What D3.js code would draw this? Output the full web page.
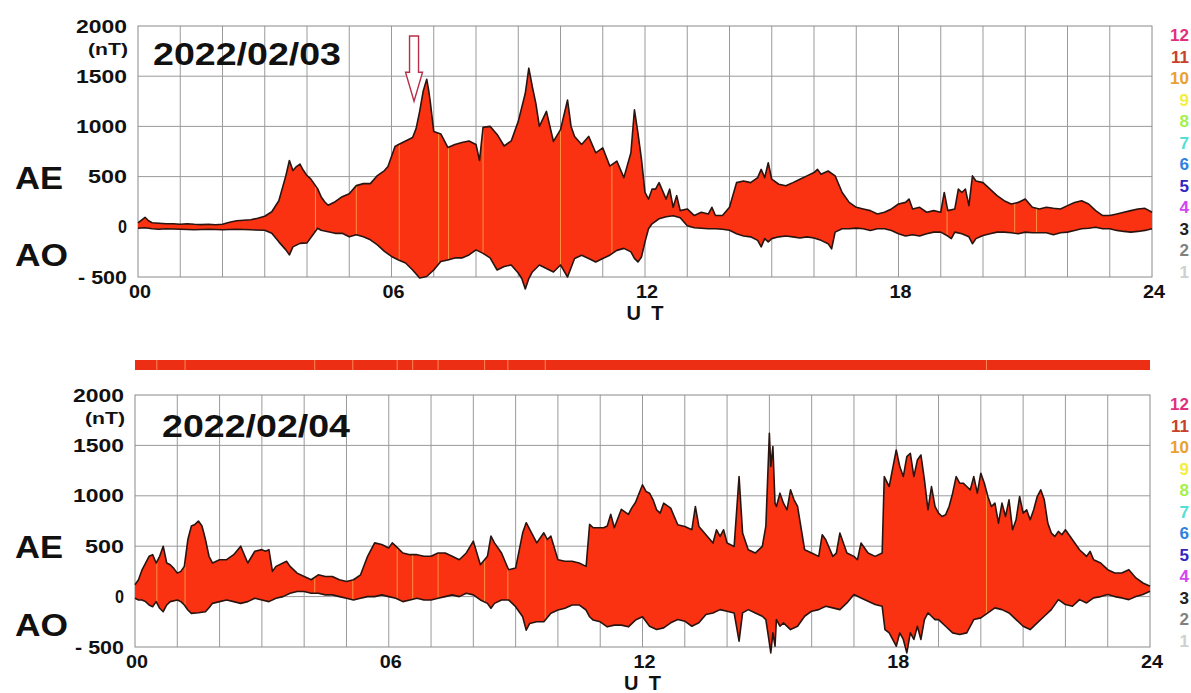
<!DOCTYPE html>
<html>
<head>
<meta charset="utf-8">
<script src="https://cdn.jsdelivr.net/npm/d3@7"></script>
<style>
  body { margin: 0; background: #fff; }
  svg { display: block; }
  text { font-family: "Liberation Sans", Arial, Helvetica, sans-serif; font-weight: bold; }
</style>
</head>
<body>
<svg id="chart" width="1191" height="693"></svg>
<script>
// ---- axis ticks and labels ----
const hourTicks = d3.range(0, 25);
const hourLabels = { 0: "00", 6: "06", 12: "12", 18: "18", 24: "24" };
const nTTicks = [2000, 1500, 1000, 500, 0, -500];
const nTLabels = ["2000", "1500", "1000", "500", "0", "- 500"];
const nTLabelWidths = [51, 51, 51, 39, 9, 49];

// ---- station-count colour key ----
const stationCounts = ["12", "11", "10", "9", "8", "7", "6", "5", "4", "3", "2", "1"];
const stationColors = ["#e0307c", "#c8402c", "#eaa030", "#f4ee3c", "#a4f04c", "#50e0d8",
                       "#3080e0", "#3424c0", "#d244f0", "#202020", "#808080", "#d0d0d0"];

// ---- dates ----
const dayLabels = ["2022/02/03", "2022/02/04"];

// ---- AU (upper envelope) and AL (lower envelope), [minute of day, nT] ----
const au0203 = [[0,40],[10,95],[15,60],[20,40],[30,35],[40,30],[50,30],[60,25],[70,30],[80,25],[90,22],[100,25],[110,20],[120,25],[130,45],[140,60],[150,65],[160,70],[170,85],[180,105],[190,150],[200,260],[210,510],[215,660],[220,560],[225,600],[230,625],[235,560],[240,510],[245,480],[250,430],[255,380],[260,300],[265,250],[270,215],[280,250],[290,300],[300,330],[310,410],[320,430],[330,430],[340,510],[350,560],[355,600],[360,700],[365,800],[370,820],[380,855],[390,890],[395,980],[400,1150],[405,1350],[410,1470],[413,1350],[415,1250],[420,950],[430,925],[440,790],[450,820],[460,840],[470,855],[480,820],[485,660],[490,990],[500,1000],[510,920],[520,805],[530,855],[540,1050],[550,1330],[555,1580],[560,1395],[565,1230],[570,1000],[580,1150],[590,850],[600,967],[610,1263],[615,1000],[620,900],[630,820],[640,900],[650,737],[660,786],[670,605],[680,655],[690,490],[700,737],[705,1165],[710,934],[715,671],[720,342],[725,276],[730,375],[735,375],[740,440],[750,276],[755,375],[760,194],[765,310],[770,161],[780,178],[790,112],[800,145],[810,128],[815,194],[820,112],[830,112],[840,194],[850,440],[860,457],[870,440],[880,490],[885,572],[890,490],[895,638],[900,474],[910,424],[920,408],[930,440],[940,474],[950,507],[960,540],[965,572],[970,523],[980,556],[990,507],[1000,342],[1010,243],[1020,194],[1030,178],[1040,161],[1050,128],[1060,145],[1070,178],[1080,227],[1090,243],[1095,276],[1100,178],[1110,194],[1120,145],[1130,161],[1140,145],[1145,342],[1150,161],[1160,178],[1165,375],[1170,342],[1175,375],[1180,211],[1185,507],[1190,457],[1200,440],[1210,375],[1220,310],[1230,260],[1240,227],[1250,243],[1260,276],[1270,194],[1280,178],[1290,194],[1300,184],[1310,178],[1320,211],[1330,243],[1340,260],[1350,227],[1360,161],[1370,112],[1380,112],[1390,128],[1400,145],[1410,161],[1420,178],[1430,184],[1440,145]];
const al0203 = [[0,-15],[10,-10],[20,-20],[30,-25],[40,-20],[60,-25],[80,-30],[100,-25],[120,-30],[140,-25],[160,-30],[180,-35],[190,-65],[200,-150],[210,-230],[215,-280],[220,-200],[230,-165],[240,-160],[250,-65],[255,-15],[260,-35],[270,-50],[280,-65],[290,-65],[300,-100],[310,-80],[320,-100],[330,-130],[340,-180],[350,-245],[360,-295],[370,-330],[380,-360],[390,-430],[400,-510],[410,-495],[420,-430],[430,-345],[440,-330],[450,-310],[460,-310],[470,-280],[480,-230],[490,-265],[500,-310],[510,-430],[520,-395],[530,-380],[540,-460],[545,-515],[550,-620],[555,-515],[560,-450],[570,-380],[580,-415],[590,-450],[600,-380],[610,-500],[620,-315],[630,-283],[640,-315],[650,-350],[660,-315],[670,-283],[680,-235],[690,-215],[700,-250],[705,-315],[710,-350],[715,-300],[720,-150],[725,-20],[730,30],[740,80],[750,100],[760,110],[770,90],[780,10],[790,-10],[800,-15],[810,-20],[820,-20],[830,-25],[840,-35],[850,-70],[860,-92],[870,-100],[880,-135],[885,-200],[890,-118],[895,-150],[900,-118],[910,-100],[920,-92],[930,-100],[940,-112],[950,-100],[960,-112],[970,-135],[980,-168],[985,-220],[990,-53],[1000,-20],[1010,-20],[1020,-13],[1030,-20],[1040,-36],[1050,-20],[1060,-20],[1070,-36],[1080,-69],[1090,-92],[1100,-79],[1110,-92],[1120,-69],[1130,-53],[1140,-53],[1150,-92],[1155,-118],[1160,-53],[1170,-69],[1180,-100],[1185,-168],[1190,-118],[1200,-86],[1210,-69],[1220,-53],[1230,-53],[1240,-60],[1250,-69],[1260,-53],[1270,-60],[1280,-59],[1290,-60],[1300,-79],[1310,-60],[1320,-53],[1330,-36],[1340,-20],[1350,-15],[1360,-5],[1370,-20],[1380,-20],[1390,-36],[1400,-46],[1410,-53],[1420,-46],[1430,-36],[1440,-20]];

const au0204 = [[0,117],[5,167],[10,266],[15,333],[20,400],[25,416],[30,333],[35,400],[40,500],[45,333],[50,316],[55,280],[60,233],[65,250],[70,300],[75,566],[80,700],[85,716],[90,750],[95,700],[100,566],[105,400],[110,333],[120,366],[130,366],[140,416],[150,500],[160,333],[170,450],[180,466],[185,450],[190,466],[195,250],[200,300],[210,333],[215,350],[220,300],[230,233],[240,200],[250,167],[260,216],[270,200],[280,200],[290,167],[300,150],[310,167],[320,216],[330,400],[340,533],[350,516],[360,483],[365,533],[370,500],[380,433],[390,416],[400,416],[410,400],[420,400],[430,433],[440,433],[450,400],[460,366],[470,433],[480,550],[490,316],[500,400],[505,600],[510,533],[520,433],[530,266],[540,283],[550,633],[555,733],[560,666],[570,533],[580,633],[585,566],[590,600],[600,366],[610,350],[620,350],[630,333],[640,300],[645,716],[650,683],[660,683],[665,683],[670,700],[675,816],[680,683],[690,866],[700,816],[705,883],[710,933],[720,1109],[725,1043],[730,1026],[735,960],[740,861],[745,828],[750,927],[760,878],[770,713],[780,696],[790,663],[795,894],[800,696],[810,614],[820,531],[825,663],[830,597],[835,663],[840,531],[850,498],[857,1190],[862,630],[870,465],[880,432],[890,498],[895,700],[900,1620],[902,1290],[905,1488],[908,927],[910,894],[915,1026],[920,927],[925,861],[930,1059],[935,960],[940,894],[950,465],[960,432],[970,399],[975,614],[980,564],[990,399],[995,432],[1000,630],[1010,432],[1020,399],[1025,366],[1030,531],[1040,432],[1050,399],[1060,432],[1063,1191],[1070,1092],[1080,1455],[1085,1290],[1090,1191],[1095,1389],[1100,1422],[1105,1191],[1110,1356],[1115,1405],[1120,1158],[1125,861],[1130,1092],[1135,894],[1140,828],[1145,795],[1150,811],[1155,894],[1160,1026],[1165,1191],[1170,1125],[1175,1125],[1180,1092],[1185,1059],[1190,1191],[1195,1026],[1200,1224],[1205,1125],[1210,993],[1215,894],[1220,927],[1225,729],[1230,927],[1235,795],[1240,960],[1245,663],[1250,762],[1255,993],[1260,828],[1265,861],[1270,762],[1275,861],[1280,993],[1285,1059],[1290,960],[1295,729],[1300,630],[1305,597],[1310,647],[1315,614],[1320,663],[1330,564],[1340,465],[1350,399],[1355,449],[1360,366],[1370,333],[1380,267],[1390,234],[1400,234],[1410,267],[1420,185],[1430,135],[1440,102]];
const al0204 = [[0,-17],[5,-33],[10,-33],[15,-50],[20,-83],[25,-100],[30,-50],[35,-116],[40,-150],[45,-83],[50,-50],[60,-33],[65,-50],[70,-83],[75,-133],[80,-166],[90,-160],[100,-150],[105,-110],[110,-67],[120,-50],[130,-33],[140,-50],[150,-67],[160,-50],[170,-17],[180,-33],[190,-50],[200,-17],[210,0],[220,33],[230,50],[240,50],[250,33],[260,33],[270,17],[280,17],[290,0],[300,-17],[310,-33],[320,-17],[330,0],[340,0],[350,17],[360,0],[370,-17],[380,-50],[390,-33],[400,-17],[410,-33],[420,-33],[430,-17],[440,0],[450,17],[460,0],[470,33],[480,17],[490,-33],[500,-67],[505,-116],[510,-67],[520,-33],[530,-33],[540,-100],[550,-200],[555,-333],[560,-266],[570,-250],[580,-250],[590,-166],[600,-133],[610,-116],[620,-83],[630,-83],[640,-133],[645,-200],[650,-233],[660,-250],[670,-300],[680,-283],[690,-283],[700,-300],[710,-233],[720,-200],[730,-294],[740,-327],[750,-310],[760,-260],[770,-228],[780,-244],[790,-294],[800,-260],[810,-178],[820,-162],[830,-129],[840,-145],[850,-162],[857,-442],[862,-162],[870,-129],[880,-162],[890,-195],[895,-228],[900,-459],[902,-558],[905,-360],[908,-492],[910,-228],[915,-294],[920,-260],[930,-327],[940,-294],[950,-195],[960,-145],[970,-129],[980,-96],[990,-112],[1000,-129],[1010,-63],[1020,20],[1030,-13],[1040,-46],[1050,-79],[1060,-96],[1064,-327],[1070,-360],[1080,-492],[1085,-360],[1090,-425],[1095,-558],[1100,-360],[1105,-425],[1110,-294],[1115,-425],[1120,-228],[1125,-162],[1130,-195],[1135,-228],[1140,-228],[1150,-294],[1160,-360],[1170,-376],[1180,-360],[1190,-228],[1200,-211],[1210,-162],[1220,-112],[1230,-129],[1240,-162],[1250,-228],[1260,-294],[1270,-327],[1280,-260],[1290,-195],[1300,-129],[1310,-30],[1320,-79],[1330,-96],[1340,-30],[1350,-63],[1360,-13],[1370,0],[1380,20],[1390,0],[1400,-13],[1410,-30],[1420,0],[1430,20],[1440,53]];

// ---- minutes where fewer stations contributed (lighter stripes) ----
const stripes0203 = [252, 310, 371, 427, 441, 490, 600, 673, 1149, 1245, 1276];
const stripes0204 = [31, 71, 255, 309, 372, 394, 430, 496, 529, 582, 1208];

// ---- annotation arrow: time (minute) and nT range it spans ----
const arrowMinute = 392;
const arrowTopNT = 1900, arrowHeadNT = 1540, arrowTipNT = 1250;

const fillColor = "#fa3212";
const edgeColor = "#2a1410";
const gridColor = "#9a9a9a";

const svg = d3.select("#chart");

const panels = [
  { label: dayLabels[0], au: au0203, al: al0203, stripes: stripes0203,
    left: 138, right: 1152, top: 26, bottom: 277, dateX: 153, dateY: 65, arrow: true },
  { label: dayLabels[1], au: au0204, al: al0204, stripes: stripes0204,
    left: 135, right: 1150, top: 395, bottom: 647, dateX: 162, dateY: 437, arrow: false }
];

panels.forEach((p, pi) => {
  const x = d3.scaleLinear().domain([0, 1440]).range([p.left, p.right]);
  const y = d3.scaleLinear().domain([-500, 2000]).range([p.bottom, p.top]);
  const g = svg.append("g");

  // grid
  g.selectAll(".vg").data(hourTicks.slice(1, -1)).join("line")
    .attr("x1", h => x(h * 60)).attr("x2", h => x(h * 60))
    .attr("y1", p.top).attr("y2", p.bottom)
    .attr("stroke", gridColor).attr("stroke-width", 1);
  g.selectAll(".hg").data(nTTicks.slice(1, -1)).join("line")
    .attr("x1", p.left).attr("x2", p.right)
    .attr("y1", d => y(d)).attr("y2", d => y(d))
    .attr("stroke", gridColor).attr("stroke-width", 1);
  g.append("rect").attr("x", p.left).attr("y", p.top)
    .attr("width", p.right - p.left).attr("height", p.bottom - p.top)
    .attr("fill", "none").attr("stroke", "#8a8a8a").attr("stroke-width", 1);

  // filled band between AU and AL
  const pts = p.au.map(d => [x(d[0]), y(d[1])])
    .concat(p.al.slice().reverse().map(d => [x(d[0]), y(d[1])]));
  const bandPath = d3.line()(pts) + "Z";
  const clipId = "band-clip-" + pi;
  svg.append("defs").append("clipPath").attr("id", clipId)
    .append("path").attr("d", bandPath);
  g.append("path").attr("d", bandPath).attr("fill", fillColor);

  g.append("g").attr("clip-path", `url(#${clipId})`)
    .selectAll("line").data(p.stripes).join("line")
    .attr("x1", m => x(m)).attr("x2", m => x(m))
    .attr("y1", p.top).attr("y2", p.bottom + 20)
    .attr("stroke", "#ffb050").attr("stroke-opacity", 0.75).attr("stroke-width", 1);

  const edge = d3.line().x(d => x(d[0])).y(d => y(d[1]));
  [p.au, p.al].forEach(series => {
    g.append("path").attr("d", edge(series))
      .attr("fill", "none").attr("stroke", edgeColor)
      .attr("stroke-width", 1.6).attr("stroke-linejoin", "round");
  });

  // y tick labels
  g.selectAll(".yl").data(nTTicks).join("text")
    .attr("x", p.left - 11).attr("y", d => y(d) + 6.5)
    .attr("text-anchor", "end").attr("font-size", 18)
    .attr("textLength", (d, i) => nTLabelWidths[i]).attr("lengthAdjust", "spacingAndGlyphs")
    .attr("fill", "#111")
    .text((d, i) => nTLabels[i]);
  g.append("text").attr("x", p.left - 10).attr("y", y(1780) + 6.5)
    .attr("text-anchor", "end").attr("font-size", 17).attr("fill", "#111")
    .attr("textLength", 40).attr("lengthAdjust", "spacingAndGlyphs")
    .text("(nT)");

  // AE / AO labels
  g.append("text").attr("x", 15).attr("y", y(500) + 12)
    .attr("font-size", 32).attr("textLength", 48).attr("lengthAdjust", "spacingAndGlyphs")
    .attr("fill", "#111").text("AE");
  g.append("text").attr("x", 15).attr("y", y(-270) + 12)
    .attr("font-size", 32).attr("textLength", 53).attr("lengthAdjust", "spacingAndGlyphs")
    .attr("fill", "#111").text("AO");

  // x tick labels
  g.selectAll(".xl").data(Object.keys(hourLabels).map(Number)).join("text")
    .attr("x", h => x(h * 60) + 2).attr("y", p.bottom + 21)
    .attr("text-anchor", "middle").attr("font-size", 18)
    .attr("textLength", 22).attr("lengthAdjust", "spacingAndGlyphs")
    .attr("fill", "#111")
    .text(h => hourLabels[h]);
  g.append("text").attr("x", x(720)).attr("y", p.bottom + 43)
    .attr("text-anchor", "middle").attr("font-size", 20)
    .attr("textLength", 37).attr("lengthAdjust", "spacing")
    .attr("fill", "#111").text("U T");

  // date
  g.append("text").attr("x", p.dateX).attr("y", p.dateY)
    .attr("font-size", 31).attr("textLength", 188).attr("lengthAdjust", "spacingAndGlyphs")
    .attr("fill", "#111").text(p.label);

  // station-count key
  g.selectAll(".key").data(stationCounts).join("text")
    .attr("x", 1189).attr("y", (d, i) => p.top + 9 + i * 21.5 + 6)
    .attr("text-anchor", "end").attr("font-size", 17)
    .attr("fill", (d, i) => stationColors[i])
    .text(d => d);

  // arrow annotation
  if (p.arrow) {
    const ax = x(arrowMinute);
    const yt = y(arrowTopNT), yh = y(arrowHeadNT), yp = y(arrowTipNT);
    const shape = [[ax - 4.5, yt], [ax + 4.5, yt], [ax + 4.5, yh], [ax + 8.5, yh],
                   [ax, yp], [ax - 8.5, yh], [ax - 4.5, yh]];
    g.append("path").attr("d", d3.line()(shape) + "Z")
      .attr("fill", "#fff").attr("stroke", "#b83048").attr("stroke-width", 1.4);
  }

  // station bar between the panels (for the second day)
  if (pi === 1) {
    const bar = svg.append("g");
    bar.append("rect").attr("x", p.left).attr("y", 360)
      .attr("width", p.right - p.left).attr("height", 10).attr("fill", "#ec2e14");
    bar.selectAll("line").data(p.stripes).join("line")
      .attr("x1", m => x(m)).attr("x2", m => x(m))
      .attr("y1", 360).attr("y2", 370)
      .attr("stroke", "#ffb070").attr("stroke-opacity", 0.7).attr("stroke-width", 1);
  }
});
</script>
</body>
</html>
